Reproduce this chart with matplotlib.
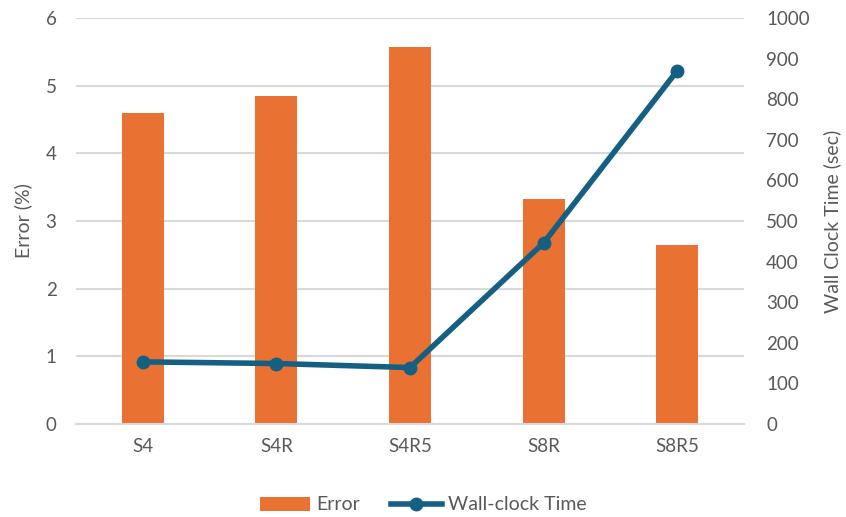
import numpy as np
import matplotlib.pyplot as plt

plt.rcParams['font.family'] = ['Lato', 'DejaVu Sans']

configs = ['S4', 'S4R', 'S4R5', 'S8R', 'S8R5']
error_pct = [4.60, 4.85, 5.57, 3.32, 2.65]
wall_time = [153, 149, 139, 446, 870]

bar_color = '#E97132'
line_color = '#156082'
text_color = '#595959'
grid_color = '#D9D9D9'

fig = plt.figure(figsize=(8.46, 5.17), dpi=100)
ax = fig.add_axes([76 / 846, 1 - 424 / 517, (744 - 76) / 846, (424 - 18) / 517])
ax2 = ax.twinx()

x = np.arange(len(configs))
bars = ax.bar(x, error_pct, width=0.315, color=bar_color, label='Error', zorder=2)
line, = ax2.plot(x, wall_time, color=line_color, lw=4, marker='o', ms=9,
                 label='Wall-clock Time', zorder=3)

ax.set_xlim(-0.5, len(configs) - 0.5)
ax.set_ylim(0, 6)
ax2.set_ylim(0, 1000)
ax.set_yticks(range(0, 7))
ax2.set_yticks(range(0, 1001, 100))

ax.yaxis.grid(True, color=grid_color, lw=1.5, zorder=0)
ax.set_axisbelow(True)
for a in (ax, ax2):
    for s in a.spines.values():
        s.set_visible(False)
    a.tick_params(length=0, labelsize=13.5, colors=text_color)
ax.spines['bottom'].set_visible(True)
ax.spines['bottom'].set_color(grid_color)
ax.spines['bottom'].set_linewidth(1.5)

ax.set_xticks(x)
ax.set_xticklabels(configs)
ax.tick_params(axis='x', pad=10)
ax.tick_params(axis='y', pad=14)
ax2.tick_params(axis='y', pad=16)

ax.set_ylabel('Error (%)', fontsize=14, color=text_color, labelpad=10)
ax2.set_ylabel('Wall Clock Time (sec)', fontsize=14, color=text_color, labelpad=10)

ax2.set_zorder(ax.get_zorder() + 1)
ax2.patch.set_visible(False)

fig.legend(handles=[bars, line], loc='center', bbox_to_anchor=(0.5, 1 - 505 / 517),
           ncol=2, frameon=False, fontsize=14, labelcolor=text_color,
           handlelength=2.6, columnspacing=1.6, handletextpad=0.3)

fig.savefig('out.png', dpi=100)
